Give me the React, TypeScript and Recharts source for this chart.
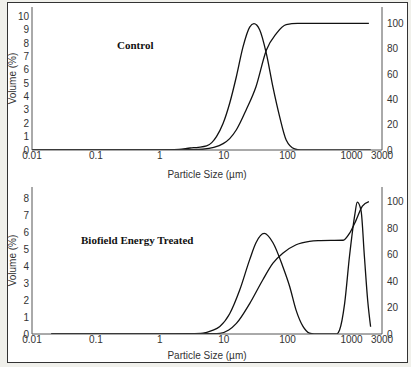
import React from 'react';
import { LineChart, Line, XAxis, YAxis } from 'recharts';

// [particle size (µm), value]
const controlVolume = [
  [0.01, 0], [0.1, 0], [1, 0], [2, 0.05], [3, 0.15], [4, 0.2], [5.4, 0.3], [6.5, 0.55],
  [7.7, 1.0], [9.8, 2.0], [12.4, 3.5], [15.8, 5.5], [20, 7.7], [25.5, 9.2], [29.7, 9.45],
  [36.5, 9.0], [46.6, 7.2], [59, 4.7], [75, 2.5], [95, 0.75], [129, 0.08], [160, 0],
  [500, 0], [2000, 0],
];
const controlCumulative = [
  [0.01, 0], [1, 0], [3, 0.2], [4.7, 0.6], [7, 2], [9.8, 5], [12.4, 9], [15.8, 16],
  [22.6, 32], [32, 50], [46.6, 79], [66.5, 92], [95, 99], [143, 100], [1870, 100],
];
const treatedVolume = [
  [0.02, 0], [1, 0], [3, 0.02], [4.75, 0.05], [6.5, 0.2], [8.7, 0.45], [12.4, 1.2],
  [17.8, 2.6], [25.5, 4.4], [32, 5.4], [43, 5.95], [59, 5.4], [84, 4.0], [108, 2.8],
  [136, 1.4], [174, 0.45], [220, 0.05], [260, 0], [580, 0], [650, 0.24], [780, 1.8],
  [930, 4.6], [1130, 7.1], [1230, 7.8], [1410, 7.3], [1590, 4.6], [1790, 2.0], [1990, 0.43],
];
const treatedCumulative = [
  [0.02, 0], [1, 0], [5, 0.2], [8.7, 0.5], [12, 3], [15.8, 8], [25.5, 23], [41, 41],
  [59, 53.5], [84, 61], [136, 67.4], [220, 70], [300, 70.5], [740, 70.8], [930, 76],
  [1180, 86], [1480, 96.5], [1870, 100],
];

const sizeTicks = [0.01, 0.1, 1, 10, 100, 1000, 3000];
const controlVolumeTicks = [0, 1, 2, 3, 4, 5, 6, 7, 8, 9, 10];
const treatedVolumeTicks = [0, 1, 2, 3, 4, 5, 6, 7, 8];
const cumulativeTicks = [0, 20, 40, 60, 80, 100];

const toRows = (pairs: number[][]) => pairs.map(([size, value]) => ({ size, value }));

const tickStyle = { fontSize: 10, fill: '#333', fontFamily: 'Liberation Sans, Arial, sans-serif' };

const VolumeLabel = ({ viewBox }: any) => {
  const cx = 12;
  const cy = viewBox.y + viewBox.height / 2;
  return (
    <text
      x={cx}
      y={cy}
      transform={`rotate(-90 ${cx} ${cy})`}
      textAnchor="middle"
      dominantBaseline="central"
      style={tickStyle}
    >
      Volume (%)
    </text>
  );
};

interface PanelProps {
  volume: number[][];
  cumulative: number[][];
  volumeTicks: number[];
  volumeMax: number;
  cumulativeMax: number;
  height: number;
  plotHeight: number;
  labelOffset: number;
}

const Panel: React.FC<PanelProps> = ({ volume, cumulative, volumeTicks, volumeMax, cumulativeMax, height, plotHeight, labelOffset }) => (
  <LineChart width={411} height={height} margin={{ top: 7, right: 0, bottom: 0, left: 0 }}>
    <XAxis
      dataKey="size"
      type="number"
      scale="log"
      domain={[0.01, 3000]}
      ticks={sizeTicks}
      interval={0}
      allowDataOverflow
      tickLine={false}
      tickSize={0}
      tickMargin={2}
      tick={tickStyle}
      stroke="#555"
      height={height - 7 - plotHeight}
      label={{ value: 'Particle Size (µm)', position: 'insideBottom', offset: labelOffset, style: tickStyle }}
    />
    <XAxis
      xAxisId="top"
      orientation="top"
      dataKey="size"
      type="number"
      scale="log"
      domain={[0.01, 3000]}
      allowDataOverflow
      tick={false}
      tickLine={false}
      height={0}
      stroke="#aaa"
    />
    <YAxis
      yAxisId="left"
      width={32}
      domain={[0, volumeMax]}
      ticks={volumeTicks}
      interval={0}
      allowDataOverflow
      tickLine={false}
      tickSize={0}
      tickMargin={3}
      tick={tickStyle}
      stroke="#555"
      label={<VolumeLabel />}
    />
    <YAxis
      yAxisId="right"
      orientation="right"
      width={29}
      domain={[0, cumulativeMax]}
      ticks={cumulativeTicks}
      interval={0}
      allowDataOverflow
      tickLine={false}
      tickSize={0}
      tickMargin={5}
      tick={{ ...tickStyle, textAnchor: 'start' }}
      stroke="#555"
    />
    <Line
      yAxisId="left"
      data={toRows(volume)}
      dataKey="value"
      type="monotone"
      stroke="#111"
      strokeWidth={1.3}
      dot={false}
      activeDot={false}
      isAnimationActive={false}
    />
    <Line
      yAxisId="right"
      data={toRows(cumulative)}
      dataKey="value"
      type="monotone"
      stroke="#111"
      strokeWidth={1.3}
      dot={false}
      activeDot={false}
      isAnimationActive={false}
    />
  </LineChart>
);

const titleStyle: React.CSSProperties = {
  position: 'absolute',
  fontFamily: 'Liberation Serif, Times New Roman, serif',
  fontWeight: 'bold',
  fontSize: 11,
  color: '#111',
  lineHeight: 1,
  whiteSpace: 'nowrap',
};

export default function App() {
  return (
    <div style={{ position: 'absolute', left: 0, top: 0, width: 411, height: 367, background: '#f0f0eb', overflow: 'hidden' }}>
      <div style={{ position: 'absolute', left: 7, top: 2, width: 399, height: 359, border: '1px solid #333', background: '#fff' }} />
      <div style={{ position: 'absolute', left: 0, top: 0 }}>
        <Panel
          volume={controlVolume}
          cumulative={controlCumulative}
          volumeTicks={controlVolumeTicks}
          volumeMax={10.7}
          cumulativeMax={113}
          height={180}
          plotHeight={143}
          labelOffset={2}
        />
      </div>
      <div style={{ position: 'absolute', left: 0, top: 180 }}>
        <Panel
          volume={treatedVolume}
          cumulative={treatedCumulative}
          volumeTicks={treatedVolumeTicks}
          volumeMax={8.7}
          cumulativeMax={111}
          height={187}
          plotHeight={147}
          labelOffset={8}
        />
      </div>
      <div style={{ ...titleStyle, left: 117, top: 40 }}>Control</div>
      <div style={{ ...titleStyle, left: 81, top: 235 }}>Biofield Energy Treated</div>
    </div>
  );
}
